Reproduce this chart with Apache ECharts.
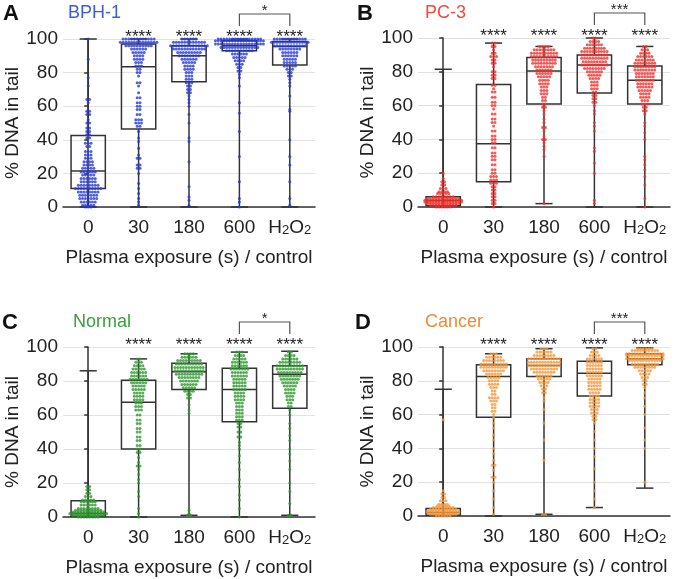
<!DOCTYPE html>
<html>
<head>
<meta charset="utf-8">
<style>
  html, body { margin: 0; padding: 0; background: #fff; }
  #chart { width: 675px; height: 579px; }
</style>
<script src="https://cdn.jsdelivr.net/npm/echarts@6/dist/echarts.min.js"></script>
</head>
<body>
<div id="chart"></div>
<script>
// categories and axis ticks
var categories = ['0', '30', '180', '600', 'H2O2'];
var yTicks = [0, 20, 40, 60, 80, 100];

// box stats per group: [min, Q1, median, Q3, max]
var boxA = [[0, 11, 21.5, 42.5, 100], [0, 46.5, 83.5, 97, 100], [0, 74.5, 90, 96, 100], [0, 93, 96, 99, 100], [0, 84.5, 95.5, 98.5, 100]];
var boxB = [[0, 0.8, 3.8, 6, 81.5], [0, 15, 37.5, 72.5, 97], [2, 61, 80.5, 88.5, 95], [0, 67.5, 84, 90, 100], [0, 61, 75, 83.5, 95]];
var boxC = [[0, 0.5, 2, 9.5, 86], [0, 40, 67.5, 80.5, 93], [1, 75, 85.5, 90.5, 96], [0, 56, 75, 87.5, 97], [1, 64, 84, 89, 97.5]];
var boxD = [[0, 0.5, 2, 4.5, 75], [0, 58.5, 82.5, 89.5, 96], [1, 82.5, 89, 93, 99], [5, 71, 84.5, 91.5, 99.5], [16.5, 89.5, 93, 96, 99.5]];

// cells per group, as [% DNA in tail, number of cells at that level]
var dotsA = [
  [[100,1],[88,1],[77,1],[72,1],[64,2],[62,1],[57,2],[55,2],[52,1],[50,2],[47,2],[45,2],[43,2],[41,2],[38,3],[36,2],[33,3],[31,3],[29,3],[27,4],[25,4],[23,5],[21,6],[19,5],[17,6],[15,6],[13,8],[11,10],[9,8],[7,7],[5,7],[3,6],[1,5],[0,3]],
  [[100,12],[98,14],[96,10],[94,6],[92,5],[90,4],[88,4],[86,3],[84,3],[82,2],[80,2],[78,1],[74,2],[72,1],[68,1],[65,2],[62,2],[60,2],[58,2],[55,2],[52,3],[50,3],[48,2],[45,1],[41,1],[39,1],[35,1],[31,1],[29,2],[25,2],[23,2],[20,1],[14,1],[11,1],[8,1],[5,1],[3,1],[1,1]],
  [[100,6],[98,12],[96,14],[94,12],[92,9],[90,8],[88,6],[86,5],[84,4],[82,4],[80,3],[78,3],[76,3],[74,3],[72,2],[70,2],[68,2],[66,1],[64,1],[62,1],[60,1],[55,1],[50,1],[41,1],[39,1],[27,1],[12,1],[6,1],[4,1],[1,1]],
  [[100,16],[99,18],[97,18],[95,14],[93,10],[91,6],[89,5],[87,4],[85,3],[83,2],[81,2],[79,1],[77,1],[72,1],[62,1],[56,1],[45,1],[30,1],[15,1],[5,1],[3,1],[0,1]],
  [[100,12],[98,14],[96,12],[94,8],[92,6],[90,6],[88,5],[86,5],[84,5],[82,3],[80,2],[78,2],[76,1],[74,1],[72,1],[66,1],[58,1],[57,1],[40,1],[30,1],[25,1],[15,1],[5,1],[1,1]]
];
var dotsB = [
  [[20,1],[17,1],[15,2],[13,2],[11,3],[9,4],[8,5],[6,8],[5,12],[4,14],[3,14],[2,12],[1,10],[0,6]],
  [[97,2],[95,2],[93,1],[91,2],[89,3],[87,2],[85,2],[83,1],[80,2],[78,2],[76,2],[72,2],[70,1],[68,2],[65,2],[62,2],[60,2],[58,1],[55,2],[52,2],[50,2],[48,1],[45,2],[42,2],[40,2],[38,2],[35,2],[32,2],[30,2],[28,2],[25,2],[22,2],[20,2],[18,3],[16,3],[14,3],[12,2],[10,2],[8,2],[6,2],[4,2],[2,2],[0,1]],
  [[95,4],[93,8],[91,10],[89,10],[87,9],[85,9],[83,7],[81,6],[79,6],[77,5],[75,4],[73,4],[71,3],[69,3],[67,3],[65,2],[63,2],[61,2],[59,2],[57,1],[55,1],[52,1],[50,1],[47,2],[45,1],[42,1],[40,2],[38,1],[36,1],[34,1],[30,1],[2,1]],
  [[100,2],[98,4],[96,6],[94,8],[92,10],[90,10],[88,10],[86,9],[84,10],[82,8],[80,6],[78,5],[76,4],[74,3],[72,3],[70,3],[68,2],[66,2],[64,2],[62,2],[60,1],[57,1],[55,1],[50,1],[48,1],[45,1],[35,1],[33,1],[26,1],[20,1],[4,1],[2,1]],
  [[95,2],[93,3],[91,4],[89,6],[87,7],[85,8],[83,8],[81,8],[79,7],[77,7],[75,7],[73,6],[71,6],[69,5],[67,4],[65,4],[63,3],[61,3],[59,2],[57,2],[55,1],[50,1],[48,1],[44,1],[40,1],[30,1],[28,1],[25,1],[22,1],[18,1],[13,1],[5,1],[0,1]]
];
var dotsC = [
  [[18,2],[16,2],[14,2],[12,3],[10,5],[9,6],[7,6],[5,8],[4,10],[3,12],[2,14],[1,12],[0,8]],
  [[93,2],[91,3],[89,4],[87,5],[85,6],[83,6],[81,7],[79,6],[77,5],[75,5],[73,4],[71,4],[69,4],[67,3],[65,3],[63,3],[60,2],[57,2],[55,2],[52,2],[50,2],[47,2],[45,2],[42,2],[40,2],[38,2],[35,1],[32,1],[30,2],[28,1],[25,1],[22,1],[20,1],[15,1],[12,1],[5,1],[2,1],[0,1]],
  [[96,4],[94,6],[92,9],[90,10],[88,11],[86,11],[84,10],[82,8],[80,7],[78,6],[76,5],[74,4],[72,2],[70,2],[66,1],[63,1],[61,1],[4,1],[2,1],[1,2]],
  [[97,3],[95,4],[93,5],[91,6],[89,6],[87,7],[85,6],[83,6],[81,5],[79,5],[77,5],[75,5],[73,4],[71,4],[69,4],[67,3],[65,3],[63,3],[61,3],[59,3],[57,3],[55,2],[53,2],[50,2],[47,2],[44,1],[42,1],[40,1],[36,1],[32,1],[28,1],[22,1],[18,1],[13,1],[10,1],[5,1],[0,1]],
  [[97,2],[95,4],[93,6],[91,8],[89,10],[87,10],[85,9],[83,8],[81,7],[79,6],[77,5],[75,4],[73,4],[71,3],[69,3],[67,2],[65,2],[63,1],[60,1],[55,1],[52,1],[48,1],[45,1],[40,1],[37,1],[33,1],[28,1],[20,1],[15,1],[8,1],[1,2]]
];
var dotsD = [
  [[57,1],[15,1],[13,2],[11,2],[9,3],[7,4],[6,5],[5,8],[4,10],[3,12],[2,12],[1,10],[0,6]],
  [[96,3],[94,6],[92,8],[90,10],[88,10],[86,8],[84,6],[82,5],[80,4],[78,4],[76,3],[74,2],[72,2],[70,4],[68,3],[66,2],[64,2],[62,2],[60,1],[58,1],[55,1],[52,1],[48,1],[45,1],[40,1],[37,1],[33,1],[30,2],[27,1],[23,2],[20,1],[15,1],[10,1],[5,1],[1,1]],
  [[99,3],[97,6],[95,8],[93,12],[91,12],[89,12],[87,10],[85,8],[83,6],[81,5],[79,4],[77,3],[75,2],[73,2],[70,1],[68,1],[63,1],[55,1],[45,1],[33,1],[1,2]],
  [[99,2],[97,3],[95,4],[93,6],[91,6],[89,6],[87,6],[85,6],[83,6],[81,5],[79,5],[77,5],[75,5],[73,4],[71,4],[69,4],[67,4],[65,4],[63,3],[61,3],[59,2],[57,2],[55,1],[50,1],[45,1],[40,1],[35,1],[28,1],[20,1],[15,1],[10,1],[5,1]],
  [[99,6],[98,10],[96,14],[95,14],[93,14],[92,12],[90,10],[88,8],[86,5],[84,4],[82,3],[80,2],[78,2],[76,1],[73,1],[70,1],[65,1],[60,1],[52,1],[45,1],[40,1],[20,1]]
];

// significance marks vs control, and the 600 vs H2O2 bracket
var starsA = ['', '****', '****', '****', '****'];
var starsB = ['', '****', '****', '****', '****'];
var starsC = ['', '****', '****', '****', '****'];
var starsD = ['', '****', '****', '****', '****'];
var bracketPair = [3, 4];
var bracketA = '*', bracketB = '***', bracketC = '*', bracketD = '***';

var panelLetters = ['A', 'B', 'C', 'D'];
var panelNames = ['BPH-1', 'PC-3', 'Normal', 'Cancer'];

(function() {
  var font = 'Liberation Sans, Arial, Helvetica, sans-serif';
  var ink = '#222';
  var boxInk = '#333';
  var rule = '#e2e2e2';

  var panels = [
    { box: boxA, dots: dotsA, stars: starsA, bracket: bracketA, color: '#2638d8', title: '#3d5be0', grid: { left: 63, top: 39, width: 252, height: 168 } },
    { box: boxB, dots: dotsB, stars: starsB, bracket: bracketB, color: '#f42f2c', title: '#f04a3c', grid: { left: 418, top: 38, width: 252, height: 169 } },
    { box: boxC, dots: dotsC, stars: starsC, bracket: bracketC, color: '#2d972d', title: '#3aa03a', grid: { left: 63, top: 347, width: 252, height: 170 } },
    { box: boxD, dots: dotsD, stars: starsD, bracket: bracketD, color: '#f7973a', title: '#f08a35', grid: { left: 418, top: 347, width: 252, height: 169 } }
  ];
  var titlePos = [[3, 3, 68, 4], [357, 3, 425, 4], [2, 312, 73, 313], [355, 312, 425, 313]];

  var grids = [], xAxes = [], yAxes = [], series = [], graphics = [];

  // --- box and whisker drawn through the axes ---
  function boxRenderer(params, api) {
    var i = api.value(0);
    var pMin = api.coord([i, api.value(1)]);
    var pQ1 = api.coord([i, api.value(2)]);
    var pMed = api.coord([i, api.value(3)]);
    var pQ3 = api.coord([i, api.value(4)]);
    var pMax = api.coord([i, api.value(5)]);
    var band = api.size([1, 0])[0];
    var hw = band * 0.34, cw = band * 0.17, x = pMed[0];
    var st = { stroke: boxInk, lineWidth: 1.5, fill: null };
    function seg(x1, y1, x2, y2) {
      return { type: 'line', shape: { x1: x1, y1: y1, x2: x2, y2: y2 }, style: st };
    }
    return {
      type: 'group',
      children: [
        { type: 'rect', shape: { x: x - hw, y: pQ3[1], width: hw * 2, height: pQ1[1] - pQ3[1] }, style: st },
        seg(x - hw, pMed[1], x + hw, pMed[1]),
        seg(x, pQ1[1], x, pMin[1]),
        seg(x, pQ3[1], x, pMax[1]),
        seg(x - cw, pMin[1], x + cw, pMin[1]),
        seg(x - cw, pMax[1], x + cw, pMax[1])
      ]
    };
  }

  panels.forEach(function(p, g) {
    grids.push(Object.assign({ outerBoundsMode: 'none', containLabel: false }, p.grid));

    xAxes.push({
      type: 'category',
      gridIndex: g,
      data: categories,
      boundaryGap: true,
      name: 'Plasma exposure (s) / control',
      nameLocation: 'middle',
      nameGap: 41,
      nameTextStyle: { color: ink, fontSize: 19, fontFamily: font },
      axisLine: { lineStyle: { color: boxInk, width: 1.5 } },
      axisTick: { show: false },
      splitLine: { show: false },
      axisLabel: {
        color: ink, fontSize: 19, fontFamily: font, margin: 11, interval: 0,
        formatter: function(v) { return v === 'H2O2' ? '{n|H}{s|2}{n|O}{s|2}' : v; },
        rich: {
          n: { fontSize: 19, fontFamily: font, color: ink, lineHeight: 19, verticalAlign: 'top' },
          s: { fontSize: 13, fontFamily: font, color: ink, lineHeight: 13, padding: [9, 0, 0, 0], verticalAlign: 'bottom' }
        }
      }
    });
    // hidden value axis for the jittered cells
    xAxes.push({ type: 'value', gridIndex: g, min: -0.5, max: 4.5, show: false });

    yAxes.push({
      type: 'value',
      gridIndex: g,
      min: yTicks[0],
      max: yTicks[yTicks.length - 1],
      interval: yTicks[1] - yTicks[0],
      name: '% DNA in tail',
      nameLocation: 'middle',
      nameGap: 40,
      nameTextStyle: { color: ink, fontSize: 19, fontFamily: font },
      axisLine: { show: true, lineStyle: { color: boxInk, width: 1.5 } },
      axisTick: { show: true, length: 4, lineStyle: { color: boxInk, width: 1.5 } },
      splitLine: { show: true, lineStyle: { color: rule, width: 1 } },
      axisLabel: { color: ink, fontSize: 19, fontFamily: font, margin: 5 }
    });

    series.push({
      type: 'custom',
      xAxisIndex: g * 2,
      yAxisIndex: g,
      data: p.box.map(function(b, i) { return [i].concat(b); }),
      encode: { x: 0, y: [1, 2, 3, 4, 5] },
      renderItem: boxRenderer,
      z: 2
    });

    // beeswarm rows: each level spread sideways around its category
    var cells = [];
    var step = 0.056;
    p.dots.forEach(function(rows, i) {
      rows.forEach(function(r) {
        for (var k = 0; k < r[1]; k++) {
          cells.push([i + (k - (r[1] - 1) / 2) * step, r[0]]);
        }
      });
    });
    series.push({
      type: 'scatter',
      xAxisIndex: g * 2 + 1,
      yAxisIndex: g,
      data: cells,
      symbol: 'circle',
      symbolSize: 3,
      itemStyle: { color: p.color },
      silent: true,
      z: 3
    });

    // stars over each treated group
    var stars = p.stars;
    series.push({
      type: 'custom',
      xAxisIndex: g * 2,
      yAxisIndex: g,
      data: stars.map(function(s, i) { return [i, 100]; }),
      renderItem: function(params, api) {
        var txt = stars[params.dataIndex];
        if (!txt) return null;
        var pt = api.coord([api.value(0), api.value(1)]);
        return {
          type: 'text',
          x: pt[0], y: pt[1] - 2,
          style: { text: txt, fill: ink, font: '17px ' + font, align: 'center', verticalAlign: 'middle' }
        };
      },
      z: 4
    });

    // bracket 600 vs H2O2
    var bText = p.bracket;
    series.push({
      type: 'custom',
      xAxisIndex: g * 2,
      yAxisIndex: g,
      data: [[bracketPair[0], 100, bracketPair[1]]],
      encode: { x: [0, 2], y: 1 },
      renderItem: function(params, api) {
        var a = api.coord([api.value(0), api.value(1)]);
        var b = api.coord([api.value(2), api.value(1)]);
        var top = a[1] - 25, foot = a[1] - 13;
        var st = { stroke: '#555', lineWidth: 1.2, fill: null };
        return {
          type: 'group',
          children: [
            { type: 'polyline', shape: { points: [[a[0], foot], [a[0], top], [b[0], top], [b[0], foot]] }, style: st },
            { type: 'text', x: (a[0] + b[0]) / 2, y: top - 3, style: { text: bText, fill: ink, font: '15px ' + font, align: 'center', verticalAlign: 'middle' } }
          ]
        };
      },
      z: 4
    });

    var tp = titlePos[g];
    graphics.push({ type: 'text', left: tp[0], top: tp[1], style: { text: panelLetters[g], fill: '#111', font: 'bold 22px ' + font } });
    graphics.push({ type: 'text', left: tp[2], top: tp[3], style: { text: panelNames[g], fill: p.title, font: '18px ' + font } });
  });

  var chart = echarts.init(document.getElementById('chart'), null, { renderer: 'canvas' });
  chart.setOption({
    animation: false,
    backgroundColor: '#fff',
    grid: grids,
    xAxis: xAxes,
    yAxis: yAxes,
    series: series,
    graphic: graphics
  });
  window.addEventListener('resize', function() { chart.resize(); });
})();
</script>
</body>
</html>
